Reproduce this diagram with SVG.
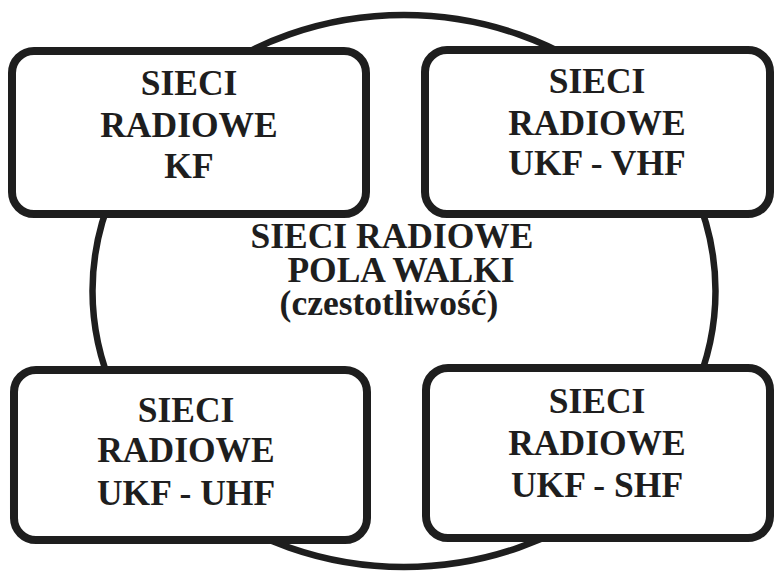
<svg xmlns="http://www.w3.org/2000/svg" width="774" height="571" viewBox="0 0 774 571">
<style>
.box{fill:#fff;stroke:#1e1e1e;stroke-width:8}
.ring{fill:none;stroke:#1e1e1e;stroke-width:6.5}
text{font-family:"Liberation Serif","Times New Roman",serif;font-weight:bold;font-size:35.5px;fill:#1e1e1e;text-anchor:middle}
</style>
<rect width="774" height="571" fill="#fff"/>
<g id="center">
<ellipse class="ring" cx="404" cy="291" rx="311.5" ry="276"/>
<text x="392" y="248">SIECI RADIOWE</text>
<text x="401" y="282">POLA WALKI</text>
<text x="389" y="315">(czestotliwość)</text>
</g>
<g id="kf">
<rect class="box" x="12" y="51" width="354" height="163" rx="22"/>
<text x="189" y="95">SIECI</text>
<text x="189" y="137">RADIOWE</text>
<text x="189" y="178">KF</text>
</g>
<g id="vhf">
<rect class="box" x="425" y="50" width="345" height="164" rx="22"/>
<text x="597" y="93">SIECI</text>
<text x="597" y="135">RADIOWE</text>
<text x="597" y="175">UKF - VHF</text>
</g>
<g id="uhf">
<rect class="box" x="14" y="370" width="353" height="170" rx="22"/>
<text x="186" y="422">SIECI</text>
<text x="186" y="462">RADIOWE</text>
<text x="186" y="505">UKF - UHF</text>
</g>
<g id="shf">
<rect class="box" x="426" y="368" width="344" height="170" rx="22"/>
<text x="597" y="413">SIECI</text>
<text x="597" y="455">RADIOWE</text>
<text x="597" y="497">UKF - SHF</text>
</g>
</svg>
